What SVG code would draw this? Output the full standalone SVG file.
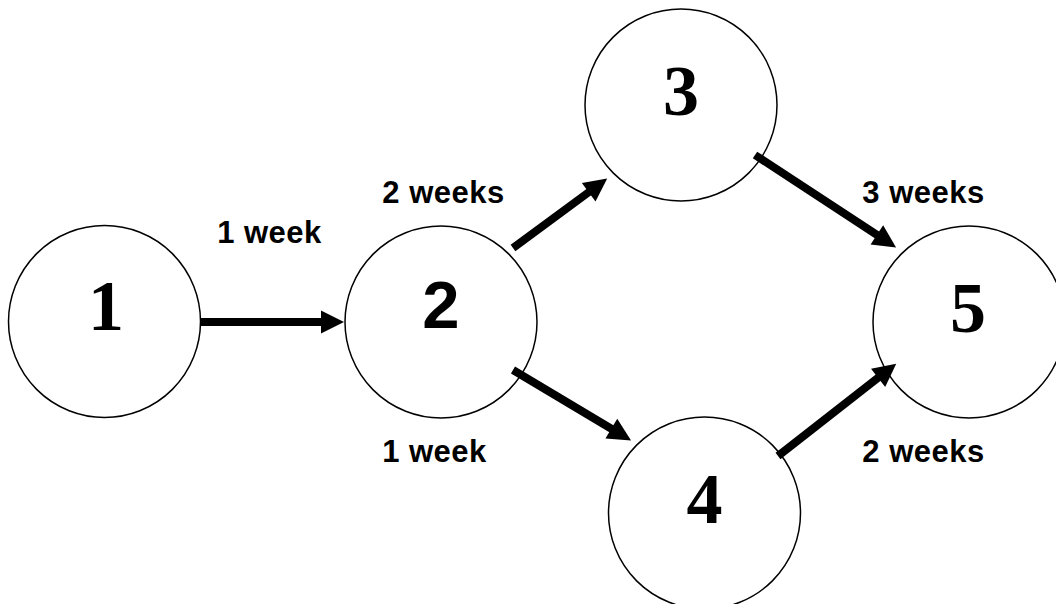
<svg xmlns="http://www.w3.org/2000/svg" width="1056" height="604" viewBox="0 0 1056 604">
  <style>
    .node circle { fill: #ffffff; stroke: #000000; stroke-width: 1.5; }
    .num { font-family: "Liberation Serif", "Times New Roman", serif; font-weight: bold; font-size: 72px; text-anchor: middle; fill: #000; }
    .numsans { font-family: "Liberation Sans", Arial, sans-serif; font-weight: bold; font-size: 67px; text-anchor: middle; fill: #000; }
    .lbl { font-family: "Liberation Sans", Arial, sans-serif; font-weight: bold; font-size: 31px; letter-spacing: 0.5px; text-anchor: middle; fill: #000; }
    .edge { stroke: #000000; stroke-width: 8; fill: none; marker-end: url(#head); }
  </style>
  <defs>
    <marker id="head" markerUnits="userSpaceOnUse" markerWidth="30" markerHeight="30" viewBox="-2 -15 30 30" refX="1" refY="0" orient="auto">
      <path d="M0,-11.5 L23,0 L0,11.5 Z" fill="#000000"/>
    </marker>
  </defs>

  <g id="node-1" class="node">
    <circle cx="104.5" cy="321.5" r="96"/>
    <text class="num" x="106" y="330">1</text>
  </g>
  <g id="node-2" class="node">
    <circle cx="441" cy="322" r="96"/>
    <text class="numsans" x="441" y="328">2</text>
  </g>
  <g id="node-3" class="node">
    <circle cx="681" cy="105" r="96"/>
    <text class="num" x="681" y="115">3</text>
  </g>
  <g id="node-4" class="node">
    <circle cx="704.5" cy="513" r="96"/>
    <text class="num" x="704.5" y="523">4</text>
  </g>
  <g id="node-5" class="node">
    <circle cx="969" cy="322" r="96"/>
    <text class="num" x="968" y="332">5</text>
  </g>

  <g id="connectors">
    <line class="edge" x1="201" y1="322" x2="322" y2="322"/>
    <line class="edge" x1="513" y1="248" x2="589.5" y2="191.6"/>
    <line class="edge" x1="513" y1="370" x2="612.2" y2="429.2"/>
    <line class="edge" x1="755" y1="155" x2="877.7" y2="235.4"/>
    <line class="edge" x1="778" y1="456" x2="878.9" y2="377.2"/>
  </g>

  <g id="labels">
    <text class="lbl" x="269.5" y="243">1 week</text>
    <text class="lbl" x="443.5" y="203">2 weeks</text>
    <text class="lbl" x="434.5" y="462">1 week</text>
    <text class="lbl" x="923.5" y="203">3 weeks</text>
    <text class="lbl" x="923.5" y="462">2 weeks</text>
  </g>
</svg>
